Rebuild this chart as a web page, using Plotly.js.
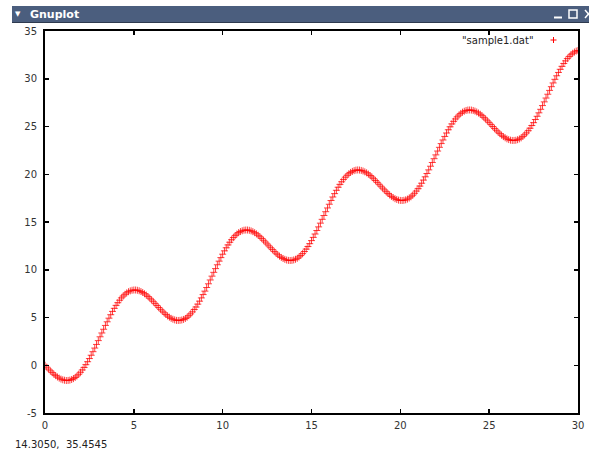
<!DOCTYPE html>
<html>
<head>
<meta charset="utf-8">
<script src="https://cdn.plot.ly/plotly-3.0.1.min.js"></script>
<style>
html,body{margin:0;padding:0;background:#fff;}
#chart{width:589px;height:450px;}
</style>
</head>
<body>
<div id="chart"></div>
<script>
// sample1.dat : x runs 0.0 .. 30.0 in steps of 0.1
var xStart = 0;
var xStep = 0.1;
var seriesName = '"sample1.dat"';
var statusText = '14.3050,  35.4545';
var xTicks = [0, 5, 10, 15, 20, 25, 30];
var yTicks = [-5, 0, 5, 10, 15, 20, 25, 30, 35];

var yPart1 = [0.00,-0.20,-0.40,-0.59,-0.77,-0.94,-1.09,-1.23,-1.35,-1.45,
-1.52,-1.57,-1.60,-1.59,-1.56,-1.49,-1.40,-1.28,-1.12,-0.94,
-0.73,-0.49,-0.23,0.06,0.37,0.70,1.05,1.42,1.80,2.18,
2.58,2.98,3.38,3.77,4.17,4.55,4.93,5.29,5.64,5.96,
6.27,6.55,6.81,7.05,7.25,7.43,7.58,7.70,7.79,7.85,
7.88,7.88,7.85,7.80,7.72,7.62,7.49,7.35,7.19,7.02,
6.84,6.65,6.45];
var yPart2 = [6.25,6.05,5.86,5.67,5.49,5.32,5.16,5.03,4.91,4.82,
4.75,4.70,4.69,4.70,4.74,4.80,4.90,5.03,5.19,5.38,
5.59,5.84,6.10,6.40,6.71,7.05,7.40,7.76,8.14,8.53,
8.93,9.33,9.73,10.12,10.52,10.90,11.27,11.63,11.98,12.30,
12.60,12.88,13.14,13.37,13.57,13.74,13.89,14.00,14.08,14.14,
14.16,14.16,14.13,14.07,13.99,13.88,13.76,13.61,13.45,13.28,
13.09,12.90,12.70];
var yPart3 = [12.50,12.30,12.11,11.92,11.74,11.57,11.42,11.29,11.18,11.09,
11.02,10.98,10.97,10.98,11.03,11.10,11.20,11.34,11.50,11.69,
11.91,12.16,12.43,12.73,13.05,13.39,13.74,14.11,14.49,14.88,
15.28,15.68,16.08,16.47,16.86,17.25,17.62,17.97,18.32,18.64,
18.94,19.21,19.46,19.69,19.89,20.05,20.19,20.30,20.38,20.43,
20.45,20.44,20.40,20.34,20.25,20.15,20.02,19.87,19.71,19.53,
19.34,19.15,18.95];
var yPart4 = [18.75,18.55,18.36,18.17,17.99,17.83,17.68,17.55,17.44,17.36,
17.29,17.26,17.25,17.27,17.32,17.40,17.51,17.64,17.81,18.01,
18.24,18.49,18.76,19.06,19.39,19.73,20.08,20.46,20.84,21.23,
21.63,22.03,22.43,22.82,23.21,23.59,23.96,24.32,24.66,24.97,
25.27,25.54,25.79,26.01,26.20,26.37,26.50,26.60,26.68,26.72,
26.73,26.72,26.68,26.61,26.52,26.41,26.28,26.13,25.96,25.78,
25.59,25.40,25.20];
var yPart5 = [25.00,24.80,24.61,24.42,24.25,24.09,23.94,23.82,23.71,23.63,
23.57,23.54,23.54,23.56,23.62,23.70,23.81,23.96,24.13,24.33,
24.56,24.82,25.10,25.40,25.73,26.07,26.43,26.80,27.19,27.58,
27.98,28.38,28.78,29.17,29.56,29.94,30.31,30.66,30.99,31.30,
31.60,31.87,32.11,32.32,32.51,32.67,32.80,32.90,32.96];

var sampleY = [].concat(yPart1, yPart2, yPart3, yPart4, yPart5);

// pixel helpers for window chrome (plot area: x 45..578, y 31..413)
var L = 45, R = 578, T = 31, B = 413;
function px(x){ return (x - L) / (R - L); }
function py(y){ return (B - y) / (B - T); }

var FONT = 'DejaVu Sans, sans-serif';

var trace = {
  type: 'scatter',
  mode: 'markers',
  x0: xStart,
  dx: xStep,
  y: sampleY,
  name: seriesName,
  showlegend: false,
  marker: {
    symbol: 'cross-thin-open',
    size: 5,
    color: 'rgba(255,0,0,0.75)',
    line: {color: 'rgba(255,0,0,0.75)', width: 1}
  },
  hoverinfo: 'x+y'
};

var axisCommon = {
  showgrid: false,
  zeroline: false,
  showline: true,
  linecolor: '#000',
  linewidth: 2,
  mirror: 'ticks',
  ticks: 'inside',
  ticklen: 4,
  tickwidth: 1.5,
  tickcolor: '#000',
  tickfont: {family: FONT, size: 10, color: '#333'},
  tickmode: 'array'
};

var layout = {
  width: 589,
  height: 450,
  margin: {l: L, r: 589 - R, t: T, b: 450 - B, pad: 0},
  paper_bgcolor: '#fff',
  plot_bgcolor: '#fff',
  xaxis: Object.assign({}, axisCommon, {
    range: [0, 30], tickvals: xTicks, ticktext: xTicks.map(String), ticklabelstandoff: 2
  }),
  yaxis: Object.assign({}, axisCommon, {
    range: [-5, 35], tickvals: yTicks, ticktext: yTicks.map(function(v){return v < 0 ? '-' + Math.abs(v) : String(v);}), ticklabelstandoff: 4
  }),
  shapes: [
    // title bar
    {type: 'rect', xref: 'paper', yref: 'paper', x0: px(12), x1: px(600), y0: py(22), y1: py(6),
     fillcolor: '#4b5e7e', line: {width: 0}, layer: 'below'},
    {type: 'line', xref: 'paper', yref: 'paper', x0: px(12), x1: px(600), y0: py(22.5), y1: py(22.5),
     line: {color: '#2e3a4f', width: 1}},
    // window buttons
    {type: 'line', xref: 'paper', yref: 'paper', x0: px(554), x1: px(562), y0: py(17.5), y1: py(17.5),
     line: {color: '#fff', width: 2}},
    {type: 'rect', xref: 'paper', yref: 'paper', x0: px(569), x1: px(577), y0: py(18), y1: py(10),
     line: {color: '#fff', width: 1.5}},
    {type: 'line', xref: 'paper', yref: 'paper', x0: px(585), x1: px(592), y0: py(10), y1: py(18),
     line: {color: '#fff', width: 1.5}},
    {type: 'line', xref: 'paper', yref: 'paper', x0: px(585), x1: px(592), y0: py(18), y1: py(10),
     line: {color: '#fff', width: 1.5}},
    // legend sample "+"
    {type: 'line', xref: 'paper', yref: 'paper', x0: px(550.5), x1: px(556.5), y0: py(40), y1: py(40),
     line: {color: 'red', width: 1}},
    {type: 'line', xref: 'paper', yref: 'paper', x0: px(553.5), x1: px(553.5), y0: py(37), y1: py(43),
     line: {color: 'red', width: 1}}
  ],
  annotations: [
    {xref: 'paper', yref: 'paper', x: px(18), y: py(14), text: '▼', showarrow: false,
     xanchor: 'center', yanchor: 'middle', font: {family: FONT, size: 7, color: '#fff'}},
    {xref: 'paper', yref: 'paper', x: px(28), y: py(14), text: '<b>Gnuplot</b>', showarrow: false,
     xanchor: 'left', yanchor: 'middle', font: {family: FONT, size: 11, color: '#fff'}},
    {xref: 'paper', yref: 'paper', x: px(536), y: py(40), text: seriesName, showarrow: false,
     xanchor: 'right', yanchor: 'middle', font: {family: FONT, size: 10, color: '#222'}},
    {xref: 'paper', yref: 'paper', x: px(13), y: py(444), text: statusText, showarrow: false,
     xanchor: 'left', yanchor: 'middle', font: {family: FONT, size: 10, color: '#222'}}
  ]
};

Plotly.newPlot('chart', [trace], layout, {displayModeBar: false, staticPlot: true});
</script>
</body>
</html>
